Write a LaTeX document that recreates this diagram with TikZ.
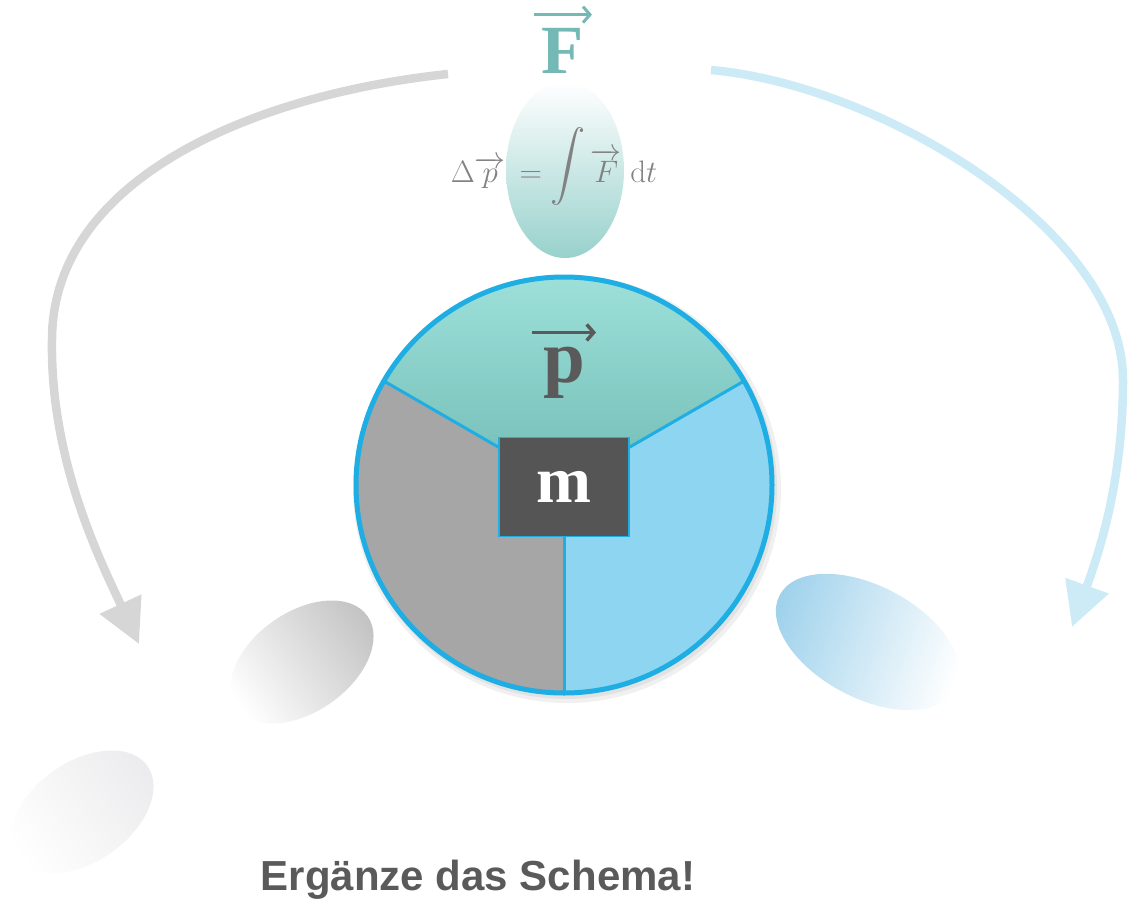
\documentclass[tikz,border=0pt]{standalone}
\usepackage{fix-cm}
\usepackage{amsmath}
\usepackage{graphicx}
\usepackage[no-math]{fontspec}
\setmainfont{Liberation Serif}
\newfontfamily\titlefont{Liberation Sans}
\usetikzlibrary{arrows.meta,positioning,calc}

\definecolor{ringblue}{RGB}{30,174,228}
\definecolor{tealtop}{RGB}{163,229,223}
\definecolor{tealbot}{RGB}{114,188,181}
\definecolor{sectgray}{RGB}{166,166,166}
\definecolor{sectblue}{RGB}{142,213,241}
\definecolor{boxgray}{RGB}{85,85,85}
\definecolor{labelgray}{RGB}{90,90,90}
\definecolor{forcecol}{RGB}{116,185,181}
\definecolor{formgray}{RGB}{130,130,130}
\definecolor{arrgray}{RGB}{214,214,214}
\definecolor{arrblue}{RGB}{205,235,247}
\definecolor{blobgray}{RGB}{196,196,196}
\definecolor{blobpale}{RGB}{236,236,238}
\definecolor{blobblue}{RGB}{160,210,236}
\definecolor{ovalteal}{RGB}{152,209,204}

\newcommand{\tallint}{\mathop{\raisebox{\dimexpr\depth-23pt\relax}{\resizebox*{!}{78pt}{$\displaystyle\int$}}}}

\begin{document}
\begin{tikzpicture}[x=1pt,y=-1pt,
    bigarrow/.style={line width=8.5pt,-{Triangle[length=44pt,width=44pt]}},
    vecarrow/.style={line width=3pt,-{Straight Barb[length=7pt,width=16pt]}},
    divider/.style={draw=ringblue,line width=3pt},
    ring/.style={circle,draw=ringblue,line width=5pt,minimum size=416pt,inner sep=0pt}]
  \useasboundingbox (0,0) rectangle (1132,903);

  % blobs to fill in
  \shade[top color=blobgray,bottom color=white,shading angle=-55,rotate around={35:(302,662)}]
    (302,662) ellipse [x radius=80,y radius=50];
  \shade[top color=blobpale,bottom color=white,shading angle=-55,rotate around={35:(82,812)}]
    (82,812) ellipse [x radius=80,y radius=50];
  \shade[top color=blobblue,bottom color=white,shading angle=70,rotate around={-28:(868,642)}]
    (868,642) ellipse [x radius=100,y radius=56];

  % impulse oval
  \shade[top color=white,bottom color=ovalteal] (565,170) ellipse [x radius=59,y radius=88];
  \node[anchor=base,text=formgray,font=\fontsize{31}{33}\selectfont] (impulse) at (554,182)
    {$\Delta\overrightarrow{p}\,=\tallint\overrightarrow{F}\;\mathrm{d}t$};
  \node[anchor=base,inner sep=0pt,text=forcecol,font=\bfseries\fontsize{69}{70}\selectfont] (force) at (563,73) {F};
  \draw[vecarrow,forcecol] ([xshift=-29pt,yshift=13pt]force.north) -- ([xshift=29pt,yshift=13pt]force.north);

  % disc with three sectors
  \coordinate (ctr) at (564,485);
  \fill[black,opacity=.06] (567,489) circle (214);
  \fill[black,opacity=.06] (566,488) circle (211);
  \shade[top color=tealtop,bottom color=tealbot] (ctr) -- ++(210:208) arc[start angle=210,end angle=330,radius=208] -- cycle;
  \fill[sectgray] (ctr) -- ++(90:208) arc[start angle=90,end angle=210,radius=208] -- cycle;
  \fill[sectblue] (ctr) -- ++(-30:208) arc[start angle=-30,end angle=90,radius=208] -- cycle;
  \foreach \a in {90,210,330}{\draw[divider] (ctr) -- ++(\a:208);}
  \node[ring] (disc) at (ctr) {};
  \node[fill=boxgray,draw=ringblue,line width=1.5pt,minimum width=130pt,minimum height=99pt,
    text=white,font=\bfseries\fontsize{66}{68}\selectfont] (mass) at (564,487) {m};
  \node[anchor=base,inner sep=0pt,text=labelgray,font=\bfseries\fontsize{75}{78}\selectfont] (mom) at (564,382) {p};
  \draw[vecarrow,labelgray,line width=3.5pt] ([xshift=-32pt,yshift=14pt]mom.north) -- ([xshift=32pt,yshift=14pt]mom.north);

  % arrows
  \coordinate (lstart) at (448,74);
  \coordinate (lend) at (139,644);
  \coordinate (rstart) at (711,70);
  \coordinate (rend) at (1072,627);
  \draw[bigarrow,arrgray] (lstart) .. controls (250,95) and (52,180) .. (52,340)
    .. controls (50,460) and (100,560) .. (lend);
  \draw[bigarrow,arrblue] (rstart) .. controls (880,85) and (1123,230) .. (1123,380)
    .. controls (1123,480) and (1100,550) .. (rend);

  \node[text=labelgray,font=\titlefont\bfseries\fontsize{42}{50}\selectfont] (task) at (478,880)
    {Ergänze das Schema!};
\end{tikzpicture}
\end{document}
